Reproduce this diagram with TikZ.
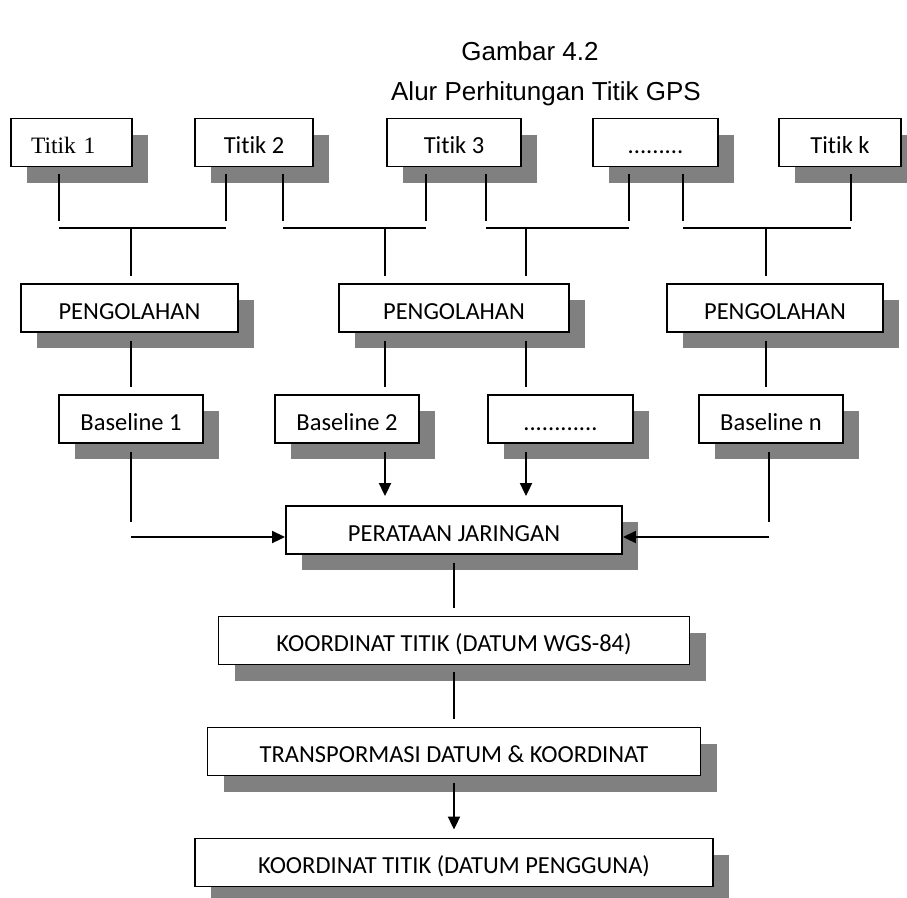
\documentclass[tikz,border=0pt]{standalone}
\usepackage{fontspec}
\usetikzlibrary{arrows.meta, shadows}
\newfontfamily\boxfont[Ligatures=NoCommon]{Carlito}
\newfontfamily\serfont{Liberation Serif}
\newfontfamily\headfont{Liberation Sans}
\colorlet{shadowgray}{black!50}

\begin{document}
\begin{tikzpicture}[x=1pt, y=-1pt,
    stepbox/.style={
        rectangle, draw=black, fill=white, line width=1.9pt,
        minimum height=48pt, inner sep=0pt,
        text height=22pt, text depth=0pt,
        font=\boxfont\fontsize{24.5}{29}\selectfont,
        general shadow={fill=shadowgray, shadow xshift=16pt, shadow yshift=-16pt}
    },
    link/.style={line width=2pt},
    arrow/.style={line width=2pt, -{Triangle[length=13pt, width=12pt]}},
    heading/.style={font=\headfont\fontsize{26}{31}\selectfont, anchor=base}
]
\useasboundingbox (0,0) rectangle (907,897);

% ===== Title =====
\node[heading] (title1) at (530,60)  {Gambar 4.2};
\node[heading] (title2) at (546,100) {Alur Perhitungan Titik GPS};

% ===== Titik =====
\node[stepbox, minimum width=121pt, text width=81pt, inner xsep=20pt, align=left,
      font=\serfont\fontsize{23.5}{28}\selectfont] (t1) at (71.5,142.5) {Titik 1};
\node[stepbox, minimum width=118pt] (t2)    at (254,142.5)   {Titik 2};
\node[stepbox, minimum width=134pt] (t3)    at (454,142.5)   {Titik 3};
\node[stepbox, minimum width=125pt] (tdots) at (655.5,142.5) {.........};
\node[stepbox, minimum width=122pt] (tk)    at (840,142.5)   {Titik k};

% ===== Pengolahan =====
\node[stepbox, minimum width=217pt] (p1) at (129.5,308) {PENGOLAHAN};
\node[stepbox, minimum width=230pt] (p2) at (454,308)   {PENGOLAHAN};
\node[stepbox, minimum width=216pt] (p3) at (775,308)   {PENGOLAHAN};

% ===== Baseline =====
\node[stepbox, minimum width=144pt] (b1)    at (131,419)   {Baseline 1};
\node[stepbox, minimum width=144pt] (b2)    at (347,419)   {Baseline 2};
\node[stepbox, minimum width=145pt] (bdots) at (560.5,419) {............};
\node[stepbox, minimum width=144pt] (bn)    at (771,419)   {Baseline n};

% ===== Jaringan dan koordinat =====
\node[stepbox, minimum width=336pt] (per)   at (454,530)   {PERATAAN JARINGAN};
\node[stepbox, minimum width=471pt] (wgs)   at (454,640.5) {KOORDINAT TITIK (DATUM WGS-84)};
\node[stepbox, minimum width=493pt] (trans) at (454,751.5) {TRANSPORMASI DATUM \& KOORDINAT};
\node[stepbox, minimum width=518pt] (user)  at (454,862.5) {KOORDINAT TITIK (DATUM PENGGUNA)};

% ===== Buses under the Titik row =====
\coordinate (bus1l) at (59,228);  \coordinate (bus1r) at (226,228);
\coordinate (bus2l) at (283,228); \coordinate (bus2r) at (426,228);
\coordinate (bus3l) at (486,228); \coordinate (bus3r) at (629,228);
\coordinate (bus4l) at (683,228); \coordinate (bus4r) at (851,228);
\coordinate (d1) at (131,228); \coordinate (d2) at (385,228);
\coordinate (d3) at (526,228); \coordinate (d4) at (766,228);

\foreach \n/\b in {t1/bus1l, t2/bus1r, t2/bus2l, t3/bus2r, t3/bus3l, tdots/bus3r, tdots/bus4l, tk/bus4r}
    \draw[link, shorten <=7pt, shorten >=7pt] (\b |- \n.south) -- (\b);
\foreach \l/\r in {bus1l/bus1r, bus2l/bus2r, bus3l/bus3r, bus4l/bus4r}
    \draw[link] (\l) -- (\r);
\foreach \d/\p/\b in {d1/p1/b1, d2/p2/b2, d3/p2/bdots, d4/p3/bn} {
    \draw[link, shorten >=7pt] (\d) -- (\d |- \p.north);
    \draw[link, shorten <=8pt, shorten >=7pt] (\d |- \p.south) -- (\d |- \b.north);
}

% ===== Into the network adjustment =====
\draw[arrow, shorten <=8pt, shorten >=9pt] (d2 |- b2.south) -- (d2 |- per.north);
\draw[arrow, shorten <=8pt, shorten >=9pt] (d3 |- bdots.south) -- (d3 |- per.north);
\coordinate (c1) at (131,522); \coordinate (h1) at (131,537);
\coordinate (c4) at (769,522); \coordinate (h4) at (769,537);
\draw[link, shorten <=8pt] (c1 |- b1.south) -- (c1);
\draw[link, shorten <=8pt] (c4 |- bn.south) -- (c4);
\draw[arrow] (h1) -- (h1 -| per.west);
\draw[arrow] (h4) -- (h4 -| per.east);

% ===== Down the chain =====
\draw[link, shorten <=8pt, shorten >=8pt] (per.south) -- (wgs.north);
\draw[link, shorten <=7pt, shorten >=8pt] (wgs.south) -- (trans.north);
\draw[arrow, shorten <=7pt, shorten >=8pt] (trans.south) -- (user.north);

\end{tikzpicture}
\end{document}
